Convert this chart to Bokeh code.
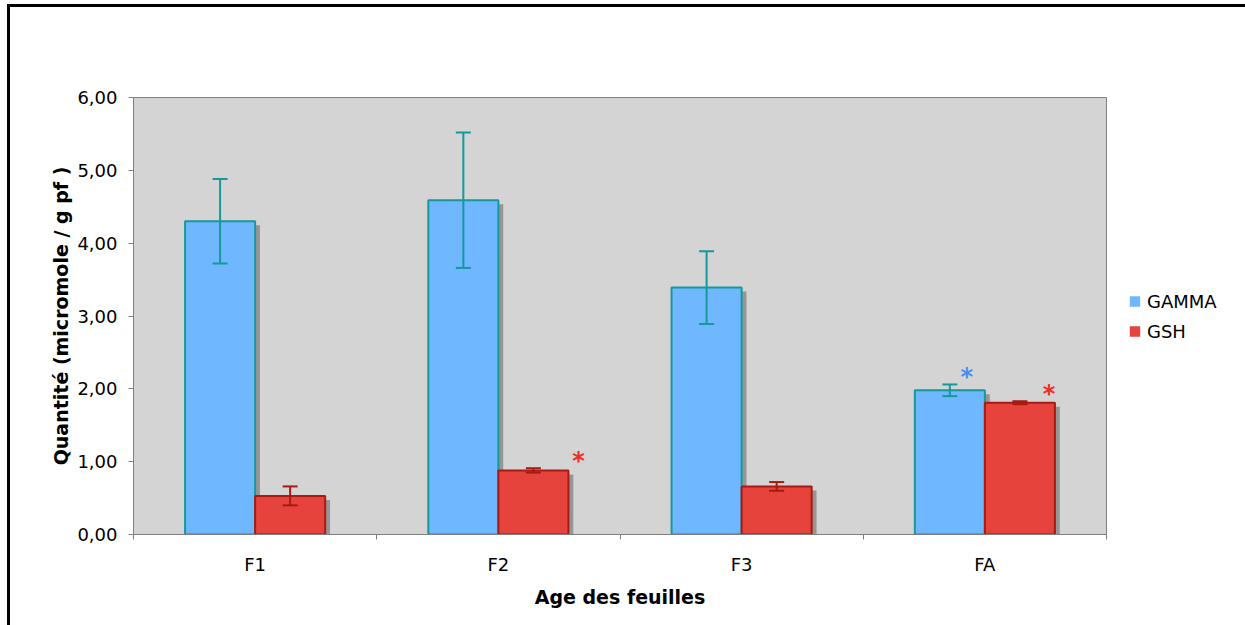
from bokeh.plotting import figure
from bokeh.models import (ColumnDataSource, Whisker, TeeHead, FixedTicker, Legend,
                          LegendItem, Range1d)
from bokeh.embed import file_html
from bokeh.resources import INLINE
from bokeh.core.properties import value

# ---------------- data ----------------
categories = ["F1", "F2", "F3", "FA"]
gamma = [4.30, 4.59, 3.39, 1.98]
gamma_err = [0.58, 0.93, 0.50, 0.08]
gsh = [0.53, 0.88, 0.66, 1.81]
gsh_err = [0.13, 0.03, 0.06, 0.02]
gamma_signif = [False, False, False, True]
gsh_signif = [False, True, False, True]
y_ticks = [0, 1, 2, 3, 4, 5, 6]
y_tick_labels = ["0,00", "1,00", "2,00", "3,00", "4,00", "5,00", "6,00"]

# ---------------- layout / style ----------------
FONT = "DejaVu Sans"
FS = "18px"
FS_T = "19px"
BAR_W = 0.288
OFF = 0.144
SH_DX = 0.02
SH_DY = 0.055
GAMMA_FILL, GAMMA_LINE = "#6FB7FF", "#15999A"
GSH_FILL, GSH_LINE = "#E5433C", "#A81A12"
SHADOW = "#969696"
FRAME_W, FRAME_H = 973, 437
NAN = float("nan")

n = len(categories)
centers = [i + 0.5 for i in range(n)]
gx = [c - OFF for c in centers]
sx = [c + OFF for c in centers]

p = figure(frame_width=FRAME_W, frame_height=FRAME_H,
           x_range=Range1d(0, n), y_range=Range1d(0, 6),
           output_backend="svg", toolbar_location=None,
           min_border_left=123, min_border_top=90, min_border_bottom=91,
           min_border_right=10, background_fill_color="#D4D4D4",
           border_fill_color="white", outline_line_color="#808080")
p.styles = {"border-left": "3px solid black", "border-top": "3px solid black",
            "margin-left": "7px", "margin-top": "4px"}
p.xgrid.visible = False
p.ygrid.visible = False

# shadows
for xs, vals in ((gx, gamma), (sx, gsh)):
    src = ColumnDataSource(dict(l=[x - BAR_W / 2 + SH_DX for x in xs],
                                r=[x + BAR_W / 2 + SH_DX for x in xs],
                                t=[max(v - SH_DY, 0) for v in vals]))
    p.quad(left="l", right="r", top="t", bottom=0, source=src,
           fill_color=SHADOW, line_color=None)

src_g = ColumnDataSource(dict(l=[x - BAR_W / 2 for x in gx], r=[x + BAR_W / 2 for x in gx],
                              t=gamma, x=gx,
                              up=[v + e for v, e in zip(gamma, gamma_err)],
                              lo=[v - e for v, e in zip(gamma, gamma_err)]))
src_s = ColumnDataSource(dict(l=[x - BAR_W / 2 for x in sx], r=[x + BAR_W / 2 for x in sx],
                              t=gsh, x=sx,
                              up=[v + e for v, e in zip(gsh, gsh_err)],
                              lo=[v - e for v, e in zip(gsh, gsh_err)]))
p.quad(left="l", right="r", top="t", bottom=0, source=src_g,
       fill_color=GAMMA_FILL, line_color=GAMMA_LINE, line_width=2)
p.quad(left="l", right="r", top="t", bottom=0, source=src_s,
       fill_color=GSH_FILL, line_color=GSH_LINE, line_width=2)

# legend proxies (plain squares without outline, nothing drawn in the plot)
lg = p.quad(left=[NAN], right=[NAN], top=[NAN], bottom=[NAN],
            fill_color=GAMMA_FILL, line_color=None)
ls = p.quad(left=[NAN], right=[NAN], top=[NAN], bottom=[NAN],
            fill_color=GSH_FILL, line_color=None)

for src, col in ((src_g, GAMMA_LINE), (src_s, GSH_LINE)):
    w = Whisker(source=src, base="x", upper="up", lower="lo", line_color=col, line_width=2,
                level="overlay",
                upper_head=TeeHead(size=15, line_color=col, line_width=2),
                lower_head=TeeHead(size=15, line_color=col, line_width=2))
    p.add_layout(w)

# significance stars
star_dx_gamma = 0.07
star_dx_gsh = [0.0, 0.185, 0.0, 0.12]
stx, sty, stc = [], [], []
for i in range(n):
    if gamma_signif[i]:
        stx.append(gx[i] + star_dx_gamma)
        sty.append(gamma[i] + gamma_err[i] + 0.15)
        stc.append("#4A8EF0")
    if gsh_signif[i]:
        stx.append(sx[i] + star_dx_gsh[i])
        sty.append(gsh[i] + gsh_err[i] + 0.14)
        stc.append("#F03024")
p.text(x=stx, y=sty, text=["*"] * len(stx), text_color=stc,
       text_font=value(FONT), text_font_size="24px", text_font_style="bold",
       text_align="center", text_baseline="middle", y_offset=3)

# axes
xa = p.xaxis[0]
xa.ticker = FixedTicker(ticks=centers, minor_ticks=list(range(n + 1)))
xa.major_label_overrides = {c: lab for c, lab in zip(centers, categories)}
xa.major_tick_out = 0
xa.major_tick_in = 0
xa.minor_tick_out = 5
xa.minor_tick_in = 0
xa.minor_tick_line_color = "#808080"
xa.axis_line_color = "#808080"
xa.major_label_text_font = FONT
xa.major_label_text_font_size = FS
xa.major_label_text_color = "black"
xa.major_label_standoff = 14
xa.axis_label = "Age des feuilles"
xa.axis_label_text_font = FONT
xa.axis_label_text_font_size = FS_T
xa.axis_label_text_font_style = "bold"
xa.axis_label_text_color = "black"
xa.axis_label_standoff = 8

ya = p.yaxis[0]
ya.ticker = FixedTicker(ticks=y_ticks, minor_ticks=[])
ya.major_label_overrides = {t: lab for t, lab in zip(y_ticks, y_tick_labels)}
ya.major_tick_out = 5
ya.major_tick_in = 0
ya.major_tick_line_color = "#808080"
ya.axis_line_color = "#808080"
ya.major_label_text_font = FONT
ya.major_label_text_font_size = FS
ya.major_label_text_color = "black"
ya.major_label_standoff = 11
ya.axis_label = "Quantité (micromole / g pf )"
ya.axis_label_text_font = FONT
ya.axis_label_text_font_size = FS_T
ya.axis_label_text_font_style = "bold"
ya.axis_label_text_color = "black"
ya.axis_label_standoff = 2

legend = Legend(items=[LegendItem(label="GAMMA", renderers=[lg]),
                       LegendItem(label="GSH", renderers=[ls])],
                location="center_left", border_line_color=None,
                background_fill_alpha=0,
                label_text_font=FONT, label_text_font_size=FS,
                label_text_color="black",
                glyph_width=13, glyph_height=13, label_standoff=6,
                label_height=20, spacing=9, padding=0, margin=22)
p.add_layout(legend, "right")

open("out.html", "w").write(file_html(p, INLINE))
